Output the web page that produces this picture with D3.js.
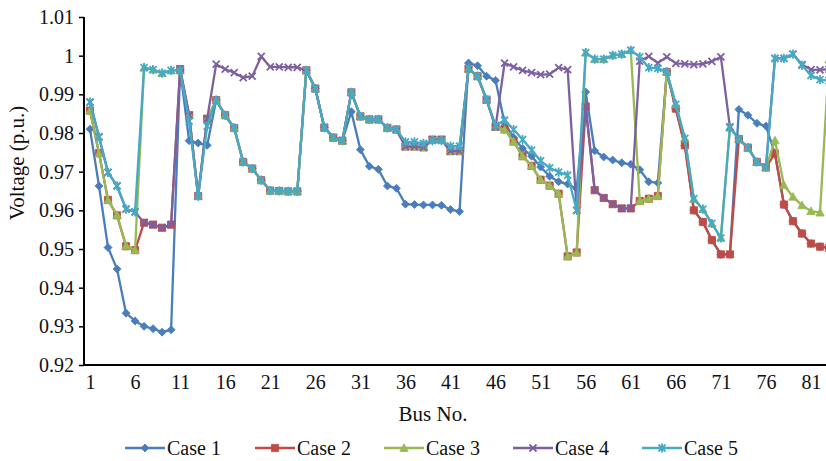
<!DOCTYPE html>
<html>
<head>
<meta charset="utf-8">
<script src="https://cdn.jsdelivr.net/npm/d3@7"></script>
<style>
  body { margin: 0; background: #fff; }
  svg { display: block; }
  svg text { font-family: "Liberation Serif", "Times New Roman", Times, serif; }
</style>
</head>
<body>
<svg id="chart" width="826" height="461"></svg>
<script>
// bus numbers along the x axis
const buses = d3.range(1, 84);
const xTicks = [1, 6, 11, 16, 21, 26, 31, 36, 41, 46, 51, 56, 61, 66, 71, 76, 81];
const yTicks = [0.92, 0.93, 0.94, 0.95, 0.96, 0.97, 0.98, 0.99, 1, 1.01];
const yTickLabels = ["0.92", "0.93", "0.94", "0.95", "0.96", "0.97", "0.98", "0.99", "1", "1.01"];

const case1 = [
  0.9810, 0.9663, 0.9504, 0.9448, 0.9334, 0.9314, 0.9300, 0.9294, 0.9285, 0.9291,
  0.9965, 0.9780, 0.9774, 0.9768, 0.9885, 0.9846, 0.9813, 0.9725, 0.9708, 0.9678,
  0.9651, 0.9650, 0.9649, 0.9649, 0.9962, 0.9915, 0.9814, 0.9788, 0.9780, 0.9855,
  0.9757, 0.9714, 0.9706, 0.9663, 0.9657, 0.9616, 0.9615, 0.9614, 0.9614, 0.9613,
  0.9602, 0.9597, 0.9981, 0.9974, 0.9947, 0.9936, 0.9826, 0.9788, 0.9760, 0.9740,
  0.9712, 0.9688, 0.9674, 0.9668, 0.9656, 0.9906, 0.9754, 0.9738, 0.9730, 0.9723,
  0.9719, 0.9705, 0.9674, 0.9671, 0.9958, 0.9863, 0.9768, 0.9600, 0.9570, 0.9523,
  0.9486, 0.9486, 0.9861, 0.9846, 0.9825, 0.9818, 0.9747, 0.9615, 0.9572, 0.9540,
  0.9514, 0.9506, 0.9503
];
const case2 = [
  0.9858, 0.9748, 0.9627, 0.9587, 0.9507, 0.9497, 0.9568, 0.9563, 0.9555, 0.9563,
  0.9965, 0.9846, 0.9637, 0.9837, 0.9885, 0.9846, 0.9813, 0.9725, 0.9708, 0.9678,
  0.9651, 0.9650, 0.9649, 0.9649, 0.9962, 0.9915, 0.9814, 0.9788, 0.9780, 0.9905,
  0.9843, 0.9835, 0.9835, 0.9813, 0.9809, 0.9765, 0.9765, 0.9763, 0.9783, 0.9783,
  0.9753, 0.9753, 0.9966, 0.9947, 0.9886, 0.9816, 0.9811, 0.9778, 0.9740, 0.9715,
  0.9679, 0.9664, 0.9643, 0.9481, 0.9491, 0.9868, 0.9652, 0.9632, 0.9616, 0.9605,
  0.9605, 0.9624, 0.9630, 0.9637, 0.9958, 0.9863, 0.9768, 0.9600, 0.9570, 0.9523,
  0.9486, 0.9486, 0.9784, 0.9762, 0.9725, 0.9711, 0.9747, 0.9615, 0.9572, 0.9540,
  0.9514, 0.9506, 0.9503
];
const case3 = [
  0.9858, 0.9747, 0.9626, 0.9588, 0.9508, 0.9497, 0.9969, 0.9964, 0.9955, 0.9962,
  0.9962, 0.9846, 0.9637, 0.9837, 0.9885, 0.9846, 0.9813, 0.9725, 0.9708, 0.9678,
  0.9651, 0.9650, 0.9649, 0.9649, 0.9962, 0.9915, 0.9814, 0.9788, 0.9780, 0.9905,
  0.9843, 0.9835, 0.9835, 0.9813, 0.9809, 0.9765, 0.9765, 0.9763, 0.9783, 0.9783,
  0.9753, 0.9753, 0.9966, 0.9947, 0.9886, 0.9816, 0.9808, 0.9778, 0.9740, 0.9715,
  0.9679, 0.9664, 0.9643, 0.9481, 0.9491, 1.0008, 0.9991, 0.9991, 1.0001, 1.0004,
  1.0014, 0.9624, 0.9630, 0.9637, 0.9958, 0.9874, 0.9786, 0.9630, 0.9603, 0.9566,
  0.9529, 0.9814, 0.9784, 0.9762, 0.9725, 0.9711, 0.9781, 0.9665, 0.9635, 0.9613,
  0.9598, 0.9594, 0.9990
];
const case4 = [
  0.9880, 0.9790, 0.9698, 0.9663, 0.9603, 0.9596, 0.9568, 0.9563, 0.9555, 0.9563,
  0.9965, 0.9846, 0.9637, 0.9837, 0.9978, 0.9965, 0.9956, 0.9943, 0.9947, 0.9998,
  0.9971, 0.9971, 0.9970, 0.9970, 0.9962, 0.9915, 0.9814, 0.9788, 0.9780, 0.9905,
  0.9843, 0.9835, 0.9835, 0.9813, 0.9809, 0.9765, 0.9765, 0.9763, 0.9783, 0.9783,
  0.9753, 0.9753, 0.9966, 0.9947, 0.9886, 0.9816, 0.9981, 0.9971, 0.9962, 0.9956,
  0.9951, 0.9952, 0.9969, 0.9964, 0.9600, 0.9868, 0.9652, 0.9632, 0.9616, 0.9605,
  0.9605, 0.9986, 0.9998, 0.9981, 0.9997, 0.9980, 0.9979, 0.9977, 0.9979, 0.9985,
  0.9997, 0.9816, 0.9784, 0.9762, 0.9725, 0.9711, 0.9993, 0.9993, 1.0004, 0.9977,
  0.9964, 0.9963, 0.9965
];
const case5 = [
  0.9880, 0.9790, 0.9698, 0.9663, 0.9603, 0.9596, 0.9969, 0.9964, 0.9955, 0.9962,
  0.9962, 0.9831, 0.9637, 0.9818, 0.9885, 0.9846, 0.9813, 0.9725, 0.9708, 0.9678,
  0.9651, 0.9650, 0.9649, 0.9649, 0.9962, 0.9915, 0.9814, 0.9788, 0.9780, 0.9905,
  0.9843, 0.9835, 0.9835, 0.9813, 0.9809, 0.9777, 0.9777, 0.9773, 0.9780, 0.9780,
  0.9766, 0.9766, 0.9967, 0.9947, 0.9887, 0.9820, 0.9833, 0.9809, 0.9783, 0.9756,
  0.9728, 0.9710, 0.9699, 0.9691, 0.9600, 1.0008, 0.9991, 0.9991, 1.0001, 1.0004,
  1.0014, 0.9997, 0.9969, 0.9967, 0.9958, 0.9874, 0.9786, 0.9630, 0.9603, 0.9566,
  0.9529, 0.9814, 0.9784, 0.9762, 0.9725, 0.9711, 0.9993, 0.9993, 1.0004, 0.9975,
  0.9949, 0.9938, 0.9935
];

const seriesNames = ["Case 1", "Case 2", "Case 3", "Case 4", "Case 5"];
const seriesValues = [case1, case2, case3, case4, case5];
const colors = ["#4a7ebb", "#be4b48", "#98b954", "#7d60a0", "#46aac5"];

// marker shapes (Excel style): diamond, square, triangle, x, star
const markers = [
  { d: "M0,-4L4,0L0,4L-4,0Z", fill: true },
  { d: "M-3.6,-3.6H3.6V3.6H-3.6Z", fill: true },
  { d: "M0,-4.2L4.2,3.4H-4.2Z", fill: true },
  { d: "M-3.5,-3.5L3.5,3.5M3.5,-3.5L-3.5,3.5", fill: false },
  { d: "M-3.5,-3.5L3.5,3.5M3.5,-3.5L-3.5,3.5M0,-4.6V4.6", fill: false }
];

const svg = d3.select("#chart");
const axisX = 84, axisY = 365;

const x = d3.scaleLinear().domain([1, 81]).range([90, 811]);
const y = d3.scaleLinear().domain([0.92, 1.01]).range([365, 17]);

// y axis
const yAxis = svg.append("g")
  .attr("transform", `translate(${axisX},0)`)
  .call(d3.axisLeft(y).tickValues(yTicks).tickSize(5).tickPadding(5)
    .tickFormat((d, i) => yTickLabels[i]))
  .attr("font-family", null);
yAxis.select(".domain").attr("d", `M0,${y(1.01)}V${axisY}`).attr("stroke", "#000").attr("stroke-width", 2);
yAxis.selectAll(".tick line").attr("stroke", "#000").attr("stroke-width", 1.5);
yAxis.selectAll(".tick text").attr("font-size", 20).attr("fill", "#111");

// x axis
const xAxis = svg.append("g")
  .attr("transform", `translate(0,${axisY})`)
  .call(d3.axisBottom(x).tickValues(xTicks).tickSize(0).tickPadding(10).tickFormat(d3.format("d")))
  .attr("font-family", null);
xAxis.select(".domain").attr("d", `M${axisX},0H826`).attr("stroke", "#000").attr("stroke-width", 2);
xAxis.selectAll(".tick text").attr("font-size", 20).attr("fill", "#111");

// axis titles
svg.append("text")
  .attr("transform", "translate(24,163) rotate(-90)")
  .attr("text-anchor", "middle")
  .attr("font-size", 21)
  .attr("fill", "#111")
  .text("Voltage (p.u.)");

svg.append("text")
  .attr("x", 433).attr("y", 421)
  .attr("text-anchor", "middle")
  .attr("font-size", 21)
  .attr("fill", "#111")
  .text("Bus No.");

// series
const line = d3.line().x((d, i) => x(buses[i])).y(d => y(d));

seriesValues.forEach((vals, s) => {
  const g = svg.append("g").attr("class", "series-" + (s + 1));
  g.append("path")
    .datum(vals)
    .attr("fill", "none")
    .attr("stroke", colors[s])
    .attr("stroke-width", 2.3)
    .attr("stroke-linejoin", "round")
    .attr("d", line);
  g.selectAll("path.mk")
    .data(vals)
    .enter().append("path")
      .attr("class", "mk")
      .attr("transform", (d, i) => `translate(${x(buses[i])},${y(d)})`)
      .attr("d", markers[s].d)
      .attr("fill", markers[s].fill ? colors[s] : "none")
      .attr("stroke", colors[s])
      .attr("stroke-width", markers[s].fill ? 0.8 : 1.8);
});

// legend
const legendX = [125, 255, 384, 513, 642];
const legend = svg.append("g").attr("transform", "translate(0,448)");
seriesNames.forEach((name, s) => {
  const item = legend.append("g").attr("transform", `translate(${legendX[s]},0)`);
  item.append("line")
    .attr("x1", 0).attr("x2", 40)
    .attr("stroke", colors[s]).attr("stroke-width", 2.3);
  item.append("path")
    .attr("transform", "translate(20,0)")
    .attr("d", markers[s].d)
    .attr("fill", markers[s].fill ? colors[s] : "none")
    .attr("stroke", colors[s])
    .attr("stroke-width", markers[s].fill ? 0.8 : 1.8);
  item.append("text")
    .attr("x", 42).attr("y", 7)
    .attr("font-size", 20)
    .attr("fill", "#111")
    .text(name);
});
</script>
</body>
</html>
